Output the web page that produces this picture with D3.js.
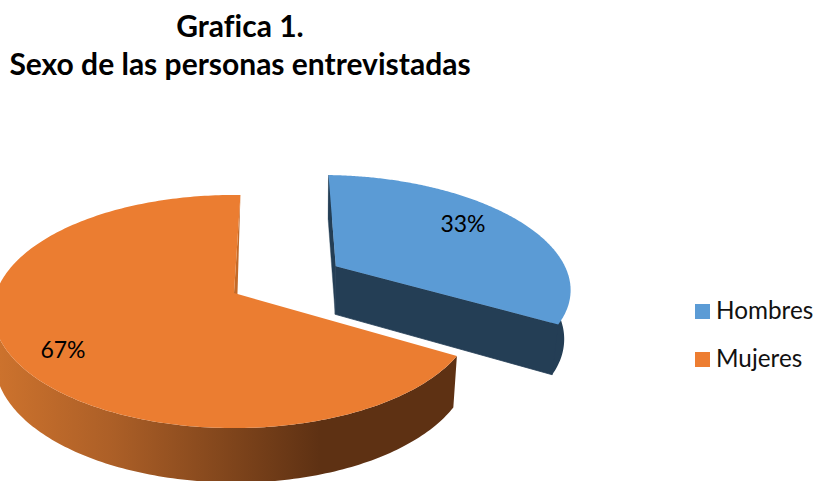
<!DOCTYPE html>
<html><head><meta charset="utf-8">
<script src="https://cdn.jsdelivr.net/npm/d3@7"></script>
<style>html,body{margin:0;padding:0;background:#fff}svg{display:block}text{font-family:Lato,"Noto Sans",sans-serif;font-variant-ligatures:none}</style>
</head><body><script>
const categories = ["Hombres", "Mujeres"];
const values = [33, 67];
const topColors = ["#5b9bd5", "#eb7d31"];
const sideColors = ["#243e55", "url(#orangeSide)"];
const wallColors = ["#243e55", "#c46a28"];
const titleLines = ["Grafica 1.", "Sexo de las personas entrevistadas"];

const W = 819, H = 481;
const svg = d3.select("body").append("svg").attr("width", W).attr("height", H);
const defs = svg.append("defs");
const grad = defs.append("linearGradient").attr("id", "orangeSide")
  .attr("gradientUnits", "userSpaceOnUse").attr("x1", 0).attr("x2", 320).attr("y1", 0).attr("y2", 0);
grad.append("stop").attr("offset", 0).attr("stop-color", "#cc722d");
grad.append("stop").attr("offset", 0.35).attr("stop-color", "#ac5f27");
grad.append("stop").attr("offset", 1).attr("stop-color", "#5e3113");

// perspective disc
const cx = 234, cy = 293, R = 238, A = 113.6, p = 0.159, explode = 0.507;
const project = (u, v) => { const s = 1 / (1 - p * v); return [cx + R * u * s, cy + A * v * s]; };
const lower = ([x, y]) => [cx + 2 + (x - cx) * (x < cx ? 1 : 0.975), 314 + 1.04 * (y - 266)];

const toRad = Math.PI / 180;
const pie = d3.pie().sort(null).startAngle(1.8 * toRad).endAngle((360 + 1.8) * toRad);
const arcs = pie(values);
const line = d3.line();

const geom = arcs.map((a, i) => {
  const mid = (a.startAngle + a.endAngle) / 2;
  const off = i === 0 ? explode : 0;
  const ou = off * Math.sin(mid), ov = -off * Math.cos(mid);
  const at = (t, r = 1) => project(ou + r * Math.sin(t), ov - r * Math.cos(t));
  const angles = d3.range(0, 241).map(k => a.startAngle + (a.endAngle - a.startAngle) * k / 240);
  return { rim: angles.map(t => at(t)), inner: angles.map(t => at(t, 0.97)), apex: at(0, 0) };
});

// outer side bands (orange first, blue after)
const order = [1, 0];
order.forEach(i => {
  const g = geom[i];
  // only the front part of the large slice's rim has a visible side
  const keep = (pt, k) => i === 0 || k <= 150;
  const upper = (i === 0 ? g.inner : g.rim).filter(keep);
  const bottom = g.rim.filter(keep).map(lower).reverse();
  svg.append("path").attr("d", line(upper.concat(bottom)) + "Z").attr("fill", sideColors[i]);
  if (i === 1) {
    // inner wall of the large slice: only a sliver shows beside the top face
    const e = g.rim[g.rim.length - 1];
    svg.append("path").attr("d", line([e, g.apex, lower(g.apex)]) + "Z").attr("fill", wallColors[1]);
  } else {
    const s = g.rim[0], e = g.rim[g.rim.length - 1];
    svg.append("path").attr("d", line([s, g.apex, lower(g.apex), lower(s)]) + "Z")
      .attr("fill", wallColors[0]).attr("stroke", wallColors[0]).attr("stroke-width", 0.4);
    svg.append("path").attr("d", line([e, g.apex, lower(g.apex), lower(e)]) + "Z")
      .attr("fill", sideColors[0]).attr("stroke", sideColors[0]).attr("stroke-width", 0.8);
  }
  svg.append("path").attr("d", line([g.apex].concat(g.rim)) + "Z").attr("fill", topColors[i]);
});

// value labels
const labelX = [463, 63], labelY = [232, 358];
svg.selectAll(".val").data(values).enter().append("text").attr("class", "val")
  .attr("x", (d, i) => labelX[i]).attr("y", (d, i) => labelY[i])
  .attr("text-anchor", "middle").attr("font-size", 23).attr("fill", "#000")
  .text(d => d3.format(".0f")(d) + "%");

// title
svg.selectAll(".ttl").data(titleLines).enter().append("text").attr("class", "ttl")
  .attr("x", 240).attr("y", (d, i) => 37 + i * 38)
  .attr("text-anchor", "middle").attr("font-size", 30).attr("font-weight", 700).attr("fill", "#000")
  .text(d => d);

// legend
const legend = svg.selectAll(".lg").data(categories).enter().append("g").attr("class", "lg")
  .attr("transform", (d, i) => `translate(695,${304 + i * 48})`);
legend.append("rect").attr("width", 15).attr("height", 15).attr("fill", (d, i) => ["#5b9bd5", "#ed7d31"][i]);
legend.append("text").attr("x", 21).attr("y", 15).attr("font-size", 24.3).attr("fill", "#111").text(d => d);
</script></body></html>
